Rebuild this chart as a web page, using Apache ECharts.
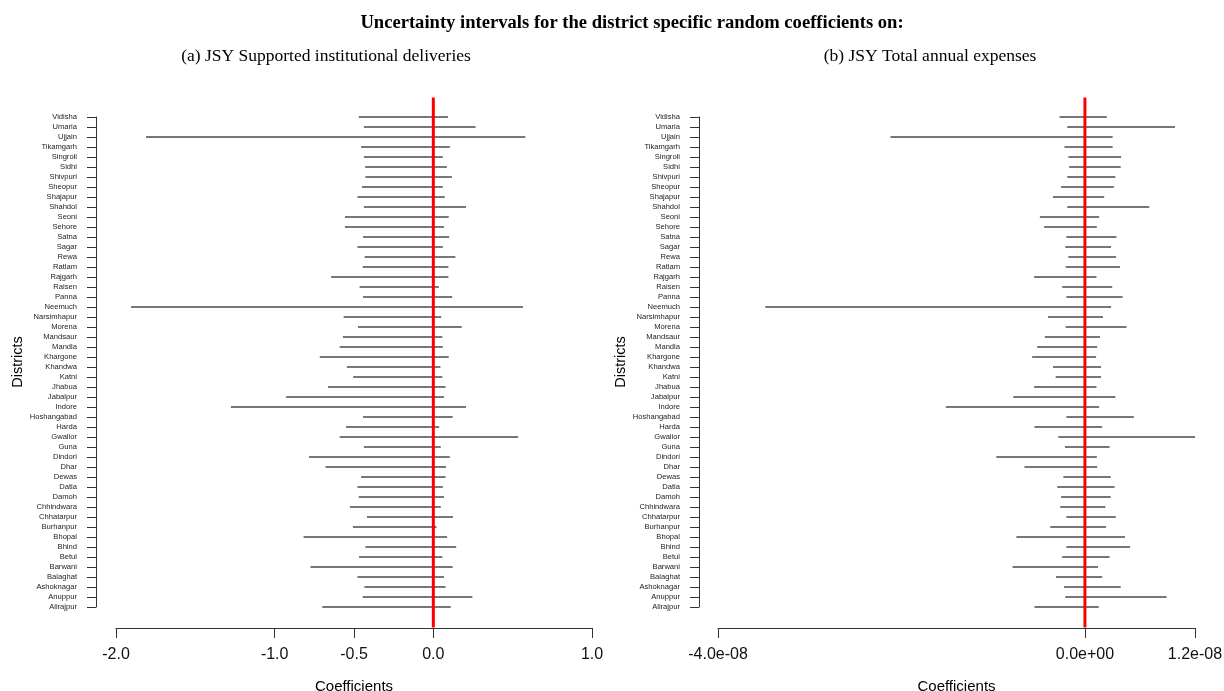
<!DOCTYPE html>
<html>
<head>
<meta charset="utf-8">
<script src="https://cdn.jsdelivr.net/npm/echarts@6/dist/echarts.min.js"></script>
<style>html,body{margin:0;padding:0;background:#fff}#c{width:1224px;height:691px}</style>
</head>
<body>
<div id="c"></div>
<script>
// Districts, bottom (index 0) to top
const districts = ["Alirajpur","Anuppur","Ashoknagar","Balaghat","Barwani","Betul","Bhind","Bhopal","Burhanpur","Chhatarpur","Chhindwara","Damoh","Datia","Dewas","Dhar","Dindori","Guna","Gwalior","Harda","Hoshangabad","Indore","Jabalpur","Jhabua","Katni","Khandwa","Khargone","Mandla","Mandsaur","Morena","Narsimhapur","Neemuch","Panna","Raisen","Rajgarh","Ratlam","Rewa","Sagar","Satna","Sehore","Seoni","Shahdol","Shajapur","Sheopur","Shivpuri","Sidhi","Singroli","Tikamgarh","Ujjain","Umaria","Vidisha"];

// (a) JSY Supported institutional deliveries
const lowA  = [-0.700,-0.445,-0.435,-0.478,-0.774,-0.468,-0.428,-0.818,-0.507,-0.418,-0.525,-0.470,-0.478,-0.455,-0.679,-0.784,-0.438,-0.590,-0.550,-0.443,-1.276,-0.928,-0.664,-0.505,-0.545,-0.716,-0.590,-0.570,-0.475,-0.565,-1.905,-0.443,-0.465,-0.644,-0.445,-0.433,-0.478,-0.443,-0.557,-0.557,-0.438,-0.478,-0.450,-0.428,-0.430,-0.438,-0.455,-1.811,-0.438,-0.470];
const highA = [0.110,0.246,0.077,0.067,0.122,0.057,0.144,0.087,0.020,0.124,0.047,0.067,0.060,0.077,0.080,0.104,0.047,0.535,0.037,0.122,0.206,0.067,0.077,0.057,0.045,0.097,0.060,0.057,0.179,0.050,0.565,0.119,0.035,0.095,0.095,0.139,0.060,0.100,0.067,0.097,0.206,0.072,0.060,0.117,0.085,0.060,0.104,0.580,0.266,0.092];

// (b) JSY Total annual expenses
const lowB  = [-0.550e-8,-0.214e-8,-0.227e-8,-0.315e-8,-0.789e-8,-0.248e-8,-0.202e-8,-0.747e-8,-0.378e-8,-0.202e-8,-0.269e-8,-0.260e-8,-0.302e-8,-0.235e-8,-0.659e-8,-0.966e-8,-0.218e-8,-0.290e-8,-0.550e-8,-0.202e-8,-1.516e-8,-0.781e-8,-0.554e-8,-0.319e-8,-0.348e-8,-0.575e-8,-0.521e-8,-0.437e-8,-0.210e-8,-0.403e-8,-3.484e-8,-0.202e-8,-0.248e-8,-0.554e-8,-0.210e-8,-0.181e-8,-0.214e-8,-0.202e-8,-0.445e-8,-0.491e-8,-0.193e-8,-0.348e-8,-0.260e-8,-0.193e-8,-0.172e-8,-0.181e-8,-0.223e-8,-2.120e-8,-0.193e-8,-0.277e-8];
const highB = [0.151e-8,0.890e-8,0.390e-8,0.189e-8,0.143e-8,0.269e-8,0.491e-8,0.437e-8,0.231e-8,0.336e-8,0.223e-8,0.281e-8,0.323e-8,0.281e-8,0.134e-8,0.130e-8,0.269e-8,1.200e-8,0.189e-8,0.533e-8,0.155e-8,0.332e-8,0.126e-8,0.176e-8,0.176e-8,0.122e-8,0.134e-8,0.164e-8,0.453e-8,0.197e-8,0.285e-8,0.411e-8,0.298e-8,0.126e-8,0.382e-8,0.340e-8,0.285e-8,0.344e-8,0.130e-8,0.155e-8,0.701e-8,0.210e-8,0.315e-8,0.332e-8,0.390e-8,0.395e-8,0.302e-8,0.302e-8,0.982e-8,0.239e-8];

// Tick labels
const ticksA = [-2.0, -1.0, -0.5, 0.0, 1.0];
const ticksB = [-4.0e-8, 0, 1.2e-8];

const n = districts.length;
const dataA = lowA.map((v, i) => [v, highA[i], i]);
const dataB = lowB.map((v, i) => [v, highB[i], i]);

function sci(v) {
  let s = v.toExponential(1);
  let parts = s.split('e');
  let e = parseInt(parts[1], 10);
  let es = (e < 0 ? '-' : '+') + String(Math.abs(e)).padStart(2, '0');
  return parts[0] + 'e' + es;
}

const axisCol = '#333';
const fontSans = 'Liberation Sans, Arial, sans-serif';
const fontSerif = 'Liberation Serif, Times New Roman, serif';

function intervalSeries(idx, data) {
  return {
    type: 'custom', xAxisIndex: idx, yAxisIndex: idx, clip: false,
    encode: { x: [0, 1], y: 2 },
    data: data,
    renderItem: function (params, api) {
      const p1 = api.coord([api.value(0), api.value(2)]);
      const p2 = api.coord([api.value(1), api.value(2)]);
      return { type: 'line', shape: { x1: p1[0], y1: p1[1], x2: p2[0], y2: p2[1] },
               style: { stroke: '#4a4a4a', lineWidth: 1.4 } };
    }
  };
}
function zeroLine(idx) {
  return {
    type: 'custom', xAxisIndex: idx, yAxisIndex: idx, clip: false, z: 5,
    data: [[0]],
    renderItem: function (params, api) {
      const top = api.coord([0, n - 1 + 0.04 * (n - 1)]);
      const bot = api.coord([0, -0.04 * (n - 1) - 0.1]);
      return { type: 'line', shape: { x1: top[0], y1: top[1], x2: bot[0], y2: bot[1] },
               style: { stroke: '#ff0000', lineWidth: 3 } };
    }
  };
}
function yAx(idx, offset, gap) {
  return {
    type: 'value', gridIndex: idx, min: 0, max: n - 1, interval: 1, offset: offset,
    name: 'Districts', nameLocation: 'middle', nameGap: gap, nameRotate: 90,
    nameTextStyle: { fontFamily: fontSans, fontSize: 14.5, color: '#000' },
    axisLine: { show: true, onZero: false, lineStyle: { color: axisCol, width: 1 } },
    axisTick: { show: true, length: 9, lineStyle: { color: axisCol, width: 1 } },
    axisLabel: { margin: 19, fontSize: 7.6, fontFamily: fontSans, color: '#222',
                 formatter: v => districts[Math.round(v)] },
    splitLine: { show: false }
  };
}
function xAx(idx, min, max, ticks, fmt) {
  return {
    type: 'value', gridIndex: idx, min: min, max: max, offset: 21,
    name: 'Coefficients', nameLocation: 'middle', nameGap: 51,
    nameTextStyle: { fontFamily: fontSans, fontSize: 15, color: '#000' },
    axisLine: { show: true, onZero: false, lineStyle: { color: axisCol, width: 1 } },
    axisTick: { show: true, length: 10, customValues: ticks, lineStyle: { color: axisCol, width: 1 } },
    axisLabel: { customValues: ticks, margin: 19, fontSize: 16, fontFamily: fontSans, color: '#111',
                 formatter: fmt, showMinLabel: true, showMaxLabel: true },
    splitLine: { show: false }
  };
}

const chart = echarts.init(document.getElementById('c'), null, { renderer: 'canvas' });
chart.setOption({
  animation: false,
  backgroundColor: '#fff',
  title: [
    { text: 'Uncertainty intervals for the district specific random coefficients on:', left: 627, top: 9, textAlign: 'center',
      textStyle: { fontFamily: fontSerif, fontWeight: 'bold', fontSize: 18.6, color: '#000' } },
    { text: '(a) JSY Supported institutional deliveries', left: 321, top: 42, textAlign: 'center',
      textStyle: { fontFamily: fontSerif, fontWeight: 'normal', fontSize: 17.5, color: '#000' } },
    { text: '(b) JSY Total annual expenses', left: 925, top: 42, textAlign: 'center',
      textStyle: { fontFamily: fontSerif, fontWeight: 'normal', fontSize: 17.5, color: '#000' } }
  ],
  grid: [
    { left: 116, top: 117, width: 476, height: 490, containLabel: false, outerBoundsMode: 'none' },
    { left: 718, top: 117, width: 477, height: 490, containLabel: false, outerBoundsMode: 'none' }
  ],
  xAxis: [
    xAx(0, -2, 1, ticksA, v => v.toFixed(1)),
    xAx(1, -4e-8, 1.2e-8, ticksB, v => sci(v))
  ],
  yAxis: [ yAx(0, 20, 67), yAx(1, 19, 56) ],
  series: [ intervalSeries(0, dataA), intervalSeries(1, dataB), zeroLine(0), zeroLine(1) ]
});
</script>
</body>
</html>
